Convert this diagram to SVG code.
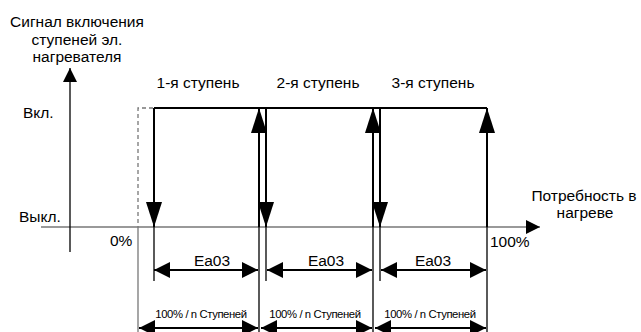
<svg xmlns="http://www.w3.org/2000/svg" width="641" height="332" viewBox="0 0 641 332">
<style>
text{font-family:"Liberation Sans",Arial,sans-serif;fill:#000}
.t{font-size:15.5px}
.s{font-size:11.3px;letter-spacing:-0.4px}
.ln{stroke:#000;stroke-width:2;fill:none}
.th{stroke:#000;stroke-width:1.3;fill:none}
.gr{stroke:#777;stroke-width:1.3;fill:none}
</style>
<defs>
<marker id="av" markerUnits="userSpaceOnUse" viewBox="0 0 25 16" refX="25" refY="8" markerWidth="25" markerHeight="16" orient="auto"><path d="M0,0L25,8L0,16z" fill="#000"/></marker>
<marker id="ah" markerUnits="userSpaceOnUse" viewBox="0 0 16 16" refX="16" refY="8" markerWidth="16" markerHeight="16" orient="auto-start-reverse"><path d="M0,0L16,8L0,16z" fill="#000"/></marker>
<marker id="ax" markerUnits="userSpaceOnUse" viewBox="0 0 14 14" refX="14" refY="7" markerWidth="14" markerHeight="14" orient="auto"><path d="M0,0L14,7L0,14z" fill="#000"/></marker>
</defs>
<g id="labels">
<text class="t" x="77" y="27" text-anchor="middle">Сигнал включения</text>
<text class="t" x="77" y="45" text-anchor="middle">ступеней эл.</text>
<text class="t" x="77" y="62" text-anchor="middle">нагревателя</text>
<text class="t" x="23" y="118">Вкл.</text>
<text class="t" x="19" y="222">Выкл.</text>
<text class="t" x="110" y="246">0%</text>
<text class="t" x="490" y="247">100%</text>
<text class="t" x="584" y="201" text-anchor="middle">Потребность в</text>
<text class="t" x="585" y="218" text-anchor="middle">нагреве</text>
<text class="t" x="198" y="88" text-anchor="middle">1-я ступень</text>
<text class="t" x="318" y="88" text-anchor="middle">2-я ступень</text>
<text class="t" x="433" y="88" text-anchor="middle">3-я ступень</text>
<text class="t" x="212" y="266" text-anchor="middle">Ea03</text>
<text class="t" x="326" y="266" text-anchor="middle">Ea03</text>
<text class="t" x="433" y="266" text-anchor="middle">Ea03</text>
<text class="s" x="201" y="318" text-anchor="middle">100% / n Ступеней</text>
<text class="s" x="315" y="318" text-anchor="middle">100% / n Ступеней</text>
<text class="s" x="430" y="318" text-anchor="middle">100% / n Ступеней</text>
</g>
<g id="connectors">
<line class="gr" x1="41" y1="227" x2="540" y2="227" marker-end="url(#ax)"/>
<line class="th" x1="70" y1="252" x2="70" y2="68" marker-end="url(#ax)"/>
<path class="gr" d="M153,108H138V227" stroke-dasharray="4,3"/>
<line class="gr" x1="138" y1="227" x2="138" y2="332"/>
<line class="ln" x1="154" y1="108" x2="487" y2="108"/>
<line class="ln" x1="154" y1="108" x2="154" y2="227" marker-end="url(#av)"/>
<line class="ln" x1="259" y1="227" x2="259" y2="108" marker-end="url(#av)"/>
<line class="ln" x1="266" y1="108" x2="266" y2="227" marker-end="url(#av)"/>
<line class="ln" x1="373" y1="227" x2="373" y2="108" marker-end="url(#av)"/>
<line class="ln" x1="380" y1="108" x2="380" y2="227" marker-end="url(#av)"/>
<line class="ln" x1="487" y1="227" x2="487" y2="108" marker-end="url(#av)"/>
<line class="th" x1="154" y1="227" x2="154" y2="281"/>
<line class="th" x1="266" y1="227" x2="266" y2="281"/>
<line class="th" x1="380" y1="227" x2="380" y2="281"/>
<line class="th" x1="259" y1="227" x2="259" y2="332"/>
<line class="th" x1="373" y1="227" x2="373" y2="332"/>
<line class="th" x1="487" y1="227" x2="487" y2="332"/>
<line class="ln" x1="154" y1="270" x2="258" y2="270" marker-start="url(#ah)" marker-end="url(#ah)"/>
<line class="ln" x1="267" y1="270" x2="372" y2="270" marker-start="url(#ah)" marker-end="url(#ah)"/>
<line class="ln" x1="381" y1="270" x2="486" y2="270" marker-start="url(#ah)" marker-end="url(#ah)"/>
<line class="ln" x1="139" y1="328" x2="258" y2="328" marker-start="url(#ah)" marker-end="url(#ah)"/>
<line class="ln" x1="261" y1="328" x2="372" y2="328" marker-start="url(#ah)" marker-end="url(#ah)"/>
<line class="ln" x1="375" y1="328" x2="486" y2="328" marker-start="url(#ah)" marker-end="url(#ah)"/>
</g>
</svg>
